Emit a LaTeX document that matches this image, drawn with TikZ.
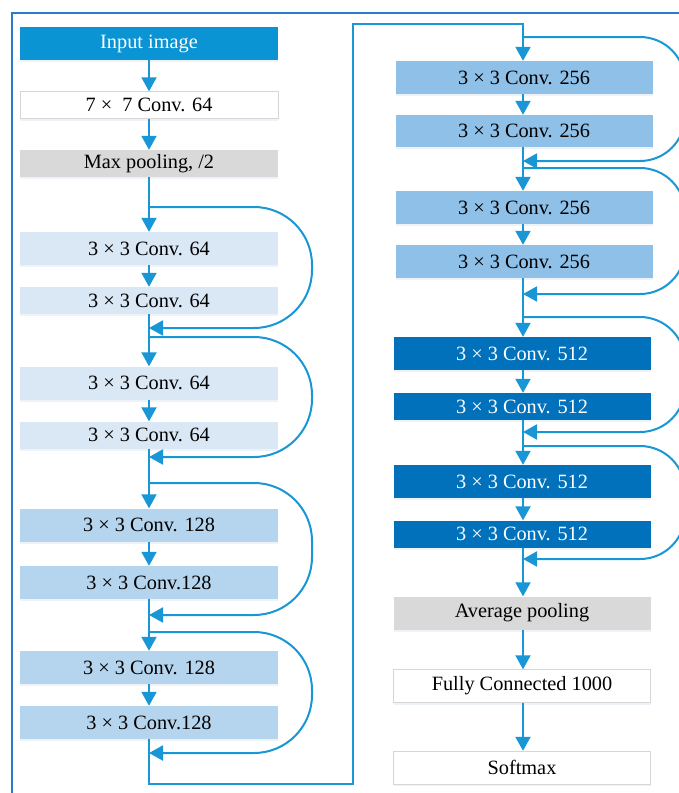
\documentclass[tikz,border=0pt]{standalone}
\usepackage{fontspec}
\setmainfont{Liberation Serif}
\usetikzlibrary{arrows.meta,shadows}
\definecolor{lineblue}{HTML}{1896D6}
\definecolor{frameblue}{HTML}{2A7CC7}
\definecolor{cin}{HTML}{0A94D4}
\definecolor{cA}{HTML}{DAE7F4}
\definecolor{cB}{HTML}{B5D4ED}
\definecolor{cC}{HTML}{8EC0E8}
\definecolor{cD}{HTML}{0071BA}
\definecolor{cgray}{HTML}{D9D9D9}
\definecolor{cborder}{HTML}{D6D6D6}
\definecolor{cshadow}{HTML}{6A9CC8}
\tikzset{
  box/.style={rectangle, inner sep=0pt, minimum height=33pt, font=\fontsize{20.3}{23}\selectfont,
    drop shadow={shadow xshift=0pt, shadow yshift=-2pt, fill=cshadow, opacity=0.12}},
  lbox/.style={box, minimum width=258pt},
  rbox/.style={box, minimum width=257pt},
  conn/.style={draw=lineblue, line width=2pt},
  arr/.style={conn, -{Triangle[width=15pt,length=14pt]}},
  skipL/.style={arr, rounded corners=58pt},
  skipR/.style={arr, rounded corners=45pt},
}
\begin{document}
\begin{tikzpicture}[x=1pt,y=-1pt]
\useasboundingbox (0,0) rectangle (679,793);
\clip (0,0) rectangle (679,793);
% frame
\draw[frameblue, line width=2pt] (12,800) -- (12,13) -- (690,13);
% left column
\node[lbox, fill=cin, text=white] (in) at (149,43.5) {Input image};
\node[lbox, fill=white, draw=cborder, minimum height=27pt] (c7) at (149,105) {7 ×\ \ 7 Conv. 64};
\node[lbox, fill=cgray, minimum height=27pt] (mp) at (149,163.5) {Max pooling, /2};
\node[lbox, fill=cA] (a1) at (149,248.5) {3 × 3 Conv. 64};
\node[lbox, fill=cA, minimum height=27pt] (a2) at (149,300.5) {3 × 3 Conv. 64};
\node[lbox, fill=cA] (b1) at (149,383) {3 × 3 Conv. 64};
\node[lbox, fill=cA, minimum height=27pt] (b2) at (149,435) {3 × 3 Conv. 64};
\node[lbox, fill=cB] (c1) at (149,525) {3 × 3 Conv. 128};
\node[lbox, fill=cB] (c2) at (149,582.5) {3 × 3 Conv.128};
\node[lbox, fill=cB] (d1) at (149,667.5) {3 × 3 Conv. 128};
\node[lbox, fill=cB] (d2) at (149,722.5) {3 × 3 Conv.128};
% right column
\node[rbox, fill=cC] (e1) at (524,77.5) {3 × 3 Conv. 256};
\node[rbox, fill=cC, minimum height=32pt] (e2) at (524,131) {3 × 3 Conv. 256};
\node[rbox, fill=cC] (e3) at (524,207.5) {3 × 3 Conv. 256};
\node[rbox, fill=cC] (e4) at (524,261.5) {3 × 3 Conv. 256};
\node[rbox, fill=cD, text=white] (f1) at (522,353.5) {3 × 3 Conv. 512};
\node[rbox, fill=cD, text=white, minimum height=27pt] (f2) at (522,406.5) {3 × 3 Conv. 512};
\node[rbox, fill=cD, text=white] (f3) at (522,481.5) {3 × 3 Conv. 512};
\node[rbox, fill=cD, text=white, minimum height=27pt] (f4) at (522,534) {3 × 3 Conv. 512};
\node[rbox, fill=cgray] (avg) at (522,613) {Average pooling};
\node[rbox, fill=white, draw=cborder] (fc) at (522,686) {Fully Connected 1000};
\node[rbox, fill=white, draw=cborder] (sm) at (522,767.5) {Softmax};
% skip coordinates
\coordinate (s1a) at (149,207); \coordinate (s1b) at (149,328);
\coordinate (s2a) at (149,337); \coordinate (s2b) at (149,457);
\coordinate (s3a) at (149,483); \coordinate (s3b) at (149,615);
\coordinate (s4a) at (149,632); \coordinate (s4b) at (149,753);
\coordinate (s5a) at (523,37);  \coordinate (s5b) at (523,161);
\coordinate (s6a) at (523,168); \coordinate (s6b) at (523,294);
\coordinate (s7a) at (523,317); \coordinate (s7b) at (523,432);
\coordinate (s8a) at (523,446); \coordinate (s8b) at (523,559);
\coordinate (k1) at (149,784); \coordinate (k2) at (353,784);
\coordinate (k3) at (353,24);  \coordinate (k4) at (523,24);
% main flow
\draw[arr] (in.south) -- (c7.north);
\draw[arr] (c7.south) -- (mp.north);
\draw[arr] (mp.south) -- (a1.north);
\draw[arr] (a1.south) -- (a2.north);
\draw[arr] (a2.south) -- (b1.north);
\draw[arr] (b1.south) -- (b2.north);
\draw[arr] (b2.south) -- (c1.north);
\draw[arr] (c1.south) -- (c2.north);
\draw[arr] (c2.south) -- (d1.north);
\draw[arr] (d1.south) -- (d2.north);
\draw[arr] (d2.south) -- (k1) -- (k2) -- (k3) -- (k4) -- (e1.north -| k4);
\draw[arr] (e1.south -| k4) -- (e2.north -| k4);
\draw[arr] (e2.south -| k4) -- (e3.north -| k4);
\draw[arr] (e3.south -| k4) -- (e4.north -| k4);
\draw[arr] (e4.south -| k4) -- (f1.north -| k4);
\draw[arr] (f1.south -| k4) -- (f2.north -| k4);
\draw[arr] (f2.south -| k4) -- (f3.north -| k4);
\draw[arr] (f3.south -| k4) -- (f4.north -| k4);
\draw[arr] (f4.south -| k4) -- (avg.north -| k4);
\draw[arr] (avg.south -| k4) -- (fc.north -| k4);
\draw[arr] (fc.south -| k4) -- (sm.north -| k4);
% skips left
\draw[skipL] (s1a) -- ++(163,0) -- ++(0,121) -- (s1b);
\draw[skipL] (s2a) -- ++(163,0) -- ++(0,120) -- (s2b);
\draw[skipL] (s3a) -- ++(163,0) -- ++(0,132) -- (s3b);
\draw[skipL] (s4a) -- ++(163,0) -- ++(0,121) -- (s4b);
% skips right
\draw[skipR] (s5a) -- ++(162,0) -- ++(0,124) -- (s5b);
\draw[skipR] (s6a) -- ++(162,0) -- ++(0,126) -- (s6b);
\draw[skipR] (s7a) -- ++(162,0) -- ++(0,115) -- (s7b);
\draw[skipR] (s8a) -- ++(162,0) -- ++(0,113) -- (s8b);
\end{tikzpicture}
\end{document}
